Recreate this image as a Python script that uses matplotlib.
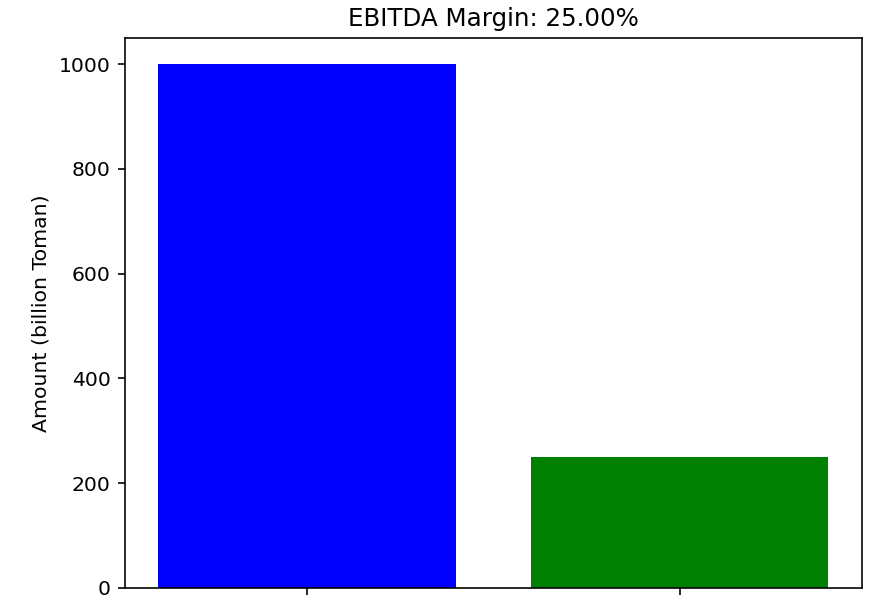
import matplotlib
matplotlib.use('Agg')
import matplotlib.pyplot as plt

categories = ['Revenue', 'EBITDA']
amounts = [1000, 250]
bar_colors = ['blue', 'green']

margin = amounts[1] / amounts[0] * 100

# screenshot is cropped just below the x axis, so the category labels are not visible
fig = plt.figure(figsize=(884 / 147, 602 / 147), dpi=147)
ax = fig.add_axes([0.1414, 0.0233, 0.9751 - 0.1414, 0.9369 - 0.0233])
ax.bar(categories, amounts, color=bar_colors)
ax.set_title(f'EBITDA Margin: {margin:.2f}%')
ax.set_ylabel('Amount (billion Toman)')
ax.tick_params(axis='x', labelbottom=False)

fig.savefig('out.png', dpi=147)
